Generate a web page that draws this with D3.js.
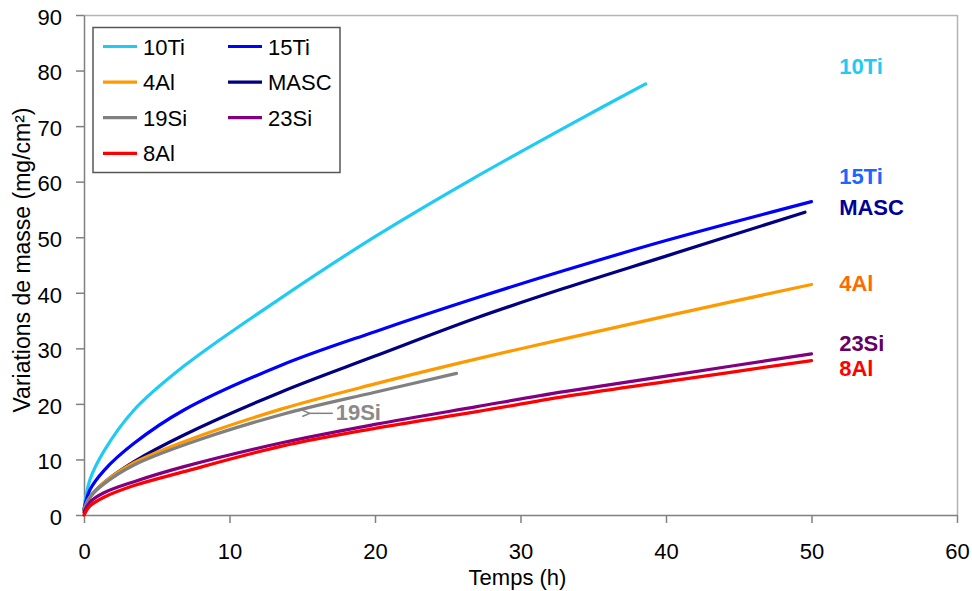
<!DOCTYPE html>
<html><head><meta charset="utf-8">
<script src="https://cdn.jsdelivr.net/npm/d3@7"></script>
<style>
body{margin:0;background:#fff;}
svg{display:block;font-family:"Liberation Sans",Arial,sans-serif;}
</style></head>
<body><svg id="c" width="972" height="591"></svg>
<script>
// ---- data (time in h, mass gain in mg/cm²) ----
const xTicks = [0,10,20,30,40,50,60];
const yTicks = [0,10,20,30,40,50,60,70,80,90];
const seriesNames = ["10Ti","15Ti","4Al","MASC","19Si","23Si","8Al"];
const seriesColors = ["#1ECBF5","#0000FF","#FF9900","#000080","#808080","#800080","#FF0000"];
const t10Ti = [0,0.4,1.37,3.44,6.87,13.5,20,26.5,34.2,38.6];
const v10Ti = [1,6.3,11.5,18.9,26.8,39.0,50.1,60.2,71.4,77.6];
const t15Ti = [0,0.4,1.37,3.44,6.87,13.6,20,27,33,40,50];
const v15Ti = [1,4.5,8.0,12.9,18.9,27.0,33.0,39.1,44.0,49.4,56.4];
const t4Al  = [0,0.4,1.37,3.44,6.87,13.6,20,27,33,40,50];
const v4Al  = [1,3.2,5.8,9.4,13.2,19.1,23.6,28.1,31.7,35.8,41.5];
const tMASC = [0,0.4,1.37,3.44,6.87,13.6,20,27,33,40,49.55];
const vMASC = [1,3.2,5.8,9.6,14.4,22.2,28.6,35.5,40.8,46.6,54.5];
const t19Si = [0,0.4,1.37,3.44,6.87,13.6,20,25.6];
const v19Si = [1,3.2,5.6,9.0,12.6,18.1,22.1,25.5];
const t23Si = [0,0.4,1.37,3.44,6.87,13.6,20,27,33,40,50];
const v23Si = [0.5,2.3,4.0,6.0,8.7,13.0,16.3,19.5,22.2,25.0,29.0];
const t8Al  = [0,0.4,1.37,3.44,6.87,13.6,20,27,33,40,50];
const v8Al  = [0,1.6,3.2,5.3,7.8,12.4,15.6,18.6,21.3,24.0,27.8];
const seriesT = [t10Ti,t15Ti,t4Al,tMASC,t19Si,t23Si,t8Al];
const seriesV = [v10Ti,v15Ti,v4Al,vMASC,v19Si,v23Si,v8Al];
// end labels
const endLabels = ["10Ti","15Ti","MASC","4Al","23Si","8Al"];
const endLabelY = [79.3,59.6,54.0,40.3,29.5,25.0];
const endLabelColors = ["#1ECBF5","#1A66FF","#000099","#FF6A00","#660066","#FF0000"];

const svg = d3.select("#c");
const m = {l:84,r:957,t:15,b:515};
const x = d3.scaleLinear().domain([0,60]).range([m.l,m.r]);
const y = d3.scaleLinear().domain([0,90]).range([m.b,m.t]);

// frame top/right
svg.append("line").attr("x1",m.l).attr("x2",m.r).attr("y1",m.t+0.5).attr("y2",m.t+0.5).attr("stroke","#b4b4b4").attr("stroke-width",1.5);
svg.append("line").attr("x1",m.r+0.5).attr("x2",m.r+0.5).attr("y1",m.t).attr("y2",m.b).attr("stroke","#b4b4b4").attr("stroke-width",1.5);

// axes
const xa = svg.append("g").attr("transform",`translate(0,${m.b})`)
  .call(d3.axisBottom(x).tickValues(xTicks).tickSize(8).tickPadding(20).tickSizeOuter(0));
const ya = svg.append("g").attr("transform",`translate(${m.l},0)`)
  .call(d3.axisLeft(y).tickValues(yTicks).tickSize(8).tickPadding(14).tickSizeOuter(0));
[xa,ya].forEach(a=>{
  a.selectAll("path,line").attr("stroke","#808080").attr("stroke-width",1.5);
  a.selectAll("text").attr("fill","#000").style("font-size","22px").style("font-family","'Liberation Sans',Arial,sans-serif");
});
ya.selectAll("text").attr("dy","0.42em");

// axis titles
svg.append("text").attr("x",(m.l+m.r)/2 -3).attr("y",585).attr("text-anchor","middle")
  .style("font-size","22px").text("Temps (h)");
svg.append("text").attr("transform","translate(30,260) rotate(-90)").attr("text-anchor","middle")
  .style("font-size","23px").text("Variations de masse (mg/cm²)");

// curves
const line = d3.line().x(d=>x(d[0])).y(d=>y(d[1])).curve(d3.curveCatmullRom.alpha(0.5));
const drawOrder = [0,1,3,2,4,5,6];
drawOrder.forEach(i=>{
  const pts = seriesT[i].map((t,j)=>[t,seriesV[i][j]]);
  svg.append("path").datum(pts).attr("d",line).attr("fill","none")
    .attr("stroke",seriesColors[i]).attr("stroke-width",3.2).attr("stroke-linecap","round");
});

// end labels
endLabels.forEach((n,i)=>{
  svg.append("text").attr("x",x(51.9)).attr("y",y(endLabelY[i])).attr("fill",endLabelColors[i])
    .style("font-size","22px").style("font-weight","bold").text(n);
});

// 19Si annotation
svg.append("defs").append("marker").attr("id","ah").attr("viewBox","0 0 10 10").attr("refX",1).attr("refY",5)
  .attr("markerWidth",9).attr("markerHeight",9).attr("markerUnits","userSpaceOnUse").attr("orient","auto-start-reverse")
  .append("path").attr("d","M9,1.5 L1,5 L9,8.5").attr("fill","none").attr("stroke","#808080").attr("stroke-width",1.6);
svg.append("line").attr("x1",x(17.1)).attr("x2",x(15.5)).attr("y1",y(18.3)).attr("y2",y(18.3))
  .attr("stroke","#808080").attr("stroke-width",1.5).attr("marker-end","url(#ah)");
svg.append("text").attr("x",x(17.3)).attr("y",y(17.1)).attr("fill","#8a8a8a")
  .style("font-size","22px").style("font-weight","bold").text("19Si");

// legend
const lg = svg.append("g");
lg.append("rect").attr("x",93).attr("y",27.5).attr("width",247).attr("height",145)
  .attr("fill","#fff").attr("stroke","#555").attr("stroke-width",1.5);
const legendOrder = ["10Ti","15Ti","4Al","MASC","19Si","23Si","8Al"];
legendOrder.forEach((n,k)=>{
  const i = seriesNames.indexOf(n);
  const col = k%2, row = Math.floor(k/2);
  const lx = col===0 ? 103 : 228;
  const cy = 46.5 + row*35.6;
  lg.append("line").attr("x1",lx).attr("x2",lx+34).attr("y1",cy).attr("y2",cy)
    .attr("stroke",seriesColors[i]).attr("stroke-width",3.2);
  lg.append("text").attr("x",lx+40).attr("y",cy+8).style("font-size","22px").attr("fill","#000").text(n);
});
</script></body></html>
